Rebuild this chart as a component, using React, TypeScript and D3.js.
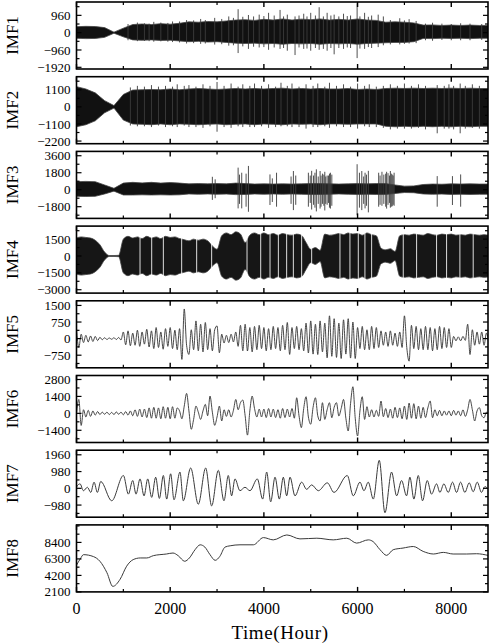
import React from "react";
import * as d3 from "d3";

// time axis (hours in one year)
const tEnd = 8784;
const xMajor = [0, 2000, 4000, 6000, 8000];
const xMinor = [1000, 3000, 5000, 7000];

// IMF1..IMF3: band envelopes sampled every 200 h (t = 0..8800)
const envStep = 200;
const imf1Hi = [
  330, 350, 340, 280, 30, 250, 450, 480, 450, 500,
  470, 520, 600, 580, 620, 600, 650, 700, 720, 680,
  740, 700, 760, 700, 750, 720, 760, 700, 740, 700,
  760, 700, 680, 580, 600, 580, 540, 420, 430, 400,
  420, 400, 420, 400, 400,
];
const imf1Lo = [
  -310, -330, -320, -260, -30, -230, -400, -420, -400, -430,
  -420, -460, -500, -480, -520, -500, -540, -580, -600, -580,
  -620, -600, -640, -600, -620, -600, -640, -600, -620, -600,
  -640, -600, -580, -560, -540, -540, -500, -320, -330, -310,
  -320, -310, -330, -310, -310,
];
// spikes: [hour, max, min]
const imf1Spikes = [
  [1100, 480, -420], [1300, 560, -470], [1450, 520, -460], [1550, 500, -470],
  [1650, 600, -500], [1800, 560, -480], [1950, 540, -500], [2050, 620, -520],
  [2200, 620, -540], [2350, 700, -600], [2500, 680, -580], [2650, 760, -620],
  [2750, 700, -600], [2950, 820, -660], [3100, 760, -640], [3250, 900, -720],
  [3350, 820, -700], [3450, 1300, -1130], [3550, 880, -760], [3670, 980, -900],
  [3780, 900, -780], [3900, 1000, -820], [4000, 920, -800], [4100, 1100, -950],
  [4220, 950, -820], [4345, 1260, -900], [4420, 900, -850], [4500, 1000, -1000],
  [4665, 900, -1240], [4750, 950, -820], [4850, 1050, -900], [4920, 900, -880],
  [5000, 1100, -1000], [5100, 950, -850], [5180, 1410, -950], [5270, 900, -900],
  [5350, 1100, -1000], [5430, 950, -850], [5500, 1000, -1200], [5600, 900, -850],
  [5700, 1050, -900], [5780, 920, -820], [5850, 950, -850], [5990, 1630, -1410],
  [6050, 900, -880], [6150, 1100, -900], [6230, 880, -800], [6300, 950, -850],
  [6440, 1000, -800], [6550, 900, -700], [6700, 700, -650], [6900, 800, -650],
  [7000, 680, -620], [7100, 750, -600], [7250, 650, -580], [7450, 500, -420],
  [7600, 550, -450], [7800, 500, -400], [8000, 480, -420], [8200, 520, -420],
  [8400, 500, -420], [8650, 480, -400],
];

const imf2Hi = [
  1300, 1150, 900, 400, 80, 800, 1080, 1100, 1120, 1100,
  1150, 1100, 1150, 1180, 1150, 1120, 1150, 1180, 1150, 1180,
  1150, 1180, 1200, 1150, 1180, 1150, 1180, 1150, 1150, 1180,
  1120, 1150, 1120, 1180, 1200, 1180, 1200, 1180, 1200, 1180,
  1200, 1180, 1200, 1180, 1180,
];
const imf2Lo = [
  -1280, -1150, -900, -380, -80, -850, -1100, -1120, -1150, -1100,
  -1150, -1100, -1120, -1150, -1120, -1100, -1150, -1120, -1100, -1150,
  -1100, -1120, -1150, -1100, -1120, -1100, -1150, -1100, -1100, -1120,
  -1100, -1100, -1100, -1250, -1280, -1250, -1280, -1250, -1280, -1250,
  -1280, -1250, -1280, -1250, -1250,
];
const imf2Spikes = [
  [1150, 1250, -1200], [1300, 1350, -1250], [1450, 1300, -1250], [1600, 1400, -1300],
  [1750, 1300, -1200], [1900, 1350, -1300], [2050, 1300, -1250], [2150, 1450, -1300],
  [2300, 1350, -1200], [2400, 1400, -1300], [2550, 1300, -1300], [2700, 1450, -1350],
  [2850, 1350, -1250], [3000, 1600, -1600], [3150, 1350, -1300], [3300, 1500, -1350],
  [3450, 1300, -1250], [3550, 1450, -1300], [3700, 1350, -1300], [3800, 1500, -1300],
  [3950, 1350, -1250], [4100, 1450, -1350], [4250, 1300, -1300], [4365, 1550, -1250],
  [4500, 1350, -1250], [4600, 1500, -1300], [4750, 1300, -1300], [4900, 1450, -1400],
  [5050, 1350, -1300], [5150, 1500, -1300], [5300, 1300, -1250], [5400, 1550, -1350],
  [5550, 1350, -1250], [5700, 1450, -1300], [5850, 1300, -1300], [6000, 1500, -1400],
  [6150, 1350, -1250], [6250, 1450, -1300], [6400, 1300, -1300], [6550, 1350, -1350],
  [6700, 1450, -1450], [6850, 1350, -1400], [7000, 1500, -1400], [7150, 1350, -1400],
  [7300, 1450, -1350], [7450, 1350, -1450], [7700, 1400, -1700], [7850, 1350, -1400],
  [7950, 1450, -1400], [8050, 1350, -1450], [8190, 1500, -1700], [8300, 1350, -1400],
  [8450, 1450, -1350], [8600, 1350, -1400],
];

const imf3Hi = [
  850, 880, 850, 500, 150, 700, 780, 720, 780, 700,
  760, 700, 620, 650, 620, 650, 620, 700, 650, 600,
  620, 600, 620, 600, 620, 650, 650, 620, 600, 620,
  650, 620, 650, 650, 500, 380, 400, 550, 600, 580,
  620, 600, 620, 600, 600,
];
const imf3Lo = [
  -700, -720, -700, -450, -150, -560, -560, -540, -560, -540,
  -560, -540, -450, -480, -450, -480, -460, -520, -500, -450,
  -480, -450, -480, -450, -480, -500, -500, -480, -450, -480,
  -500, -480, -500, -500, -400, -300, -320, -450, -480, -460,
  -500, -480, -500, -480, -480,
];
const imf3Spikes = [
  [2900, 1370, -1080], [2960, 1100, -900], [3450, 2340, -1980], [3480, 1600, -1500],
  [3527, 1800, -1980], [3620, 1700, -1800], [3670, 2520, -2340], [4130, 1620, -1620],
  [4180, 1200, -1300], [4270, 1800, -1800], [4580, 1400, -1500], [4630, 1980, -2160],
  [4680, 1500, -1600], [4950, 1800, -1800], [4990, 1500, -1400], [5020, 2000, -2100],
  [5060, 1500, -1600], [5090, 1800, -1900], [5120, 2160, -2300], [5160, 1400, -1500],
  [5200, 1980, -2000], [5220, 1500, -1800], [5250, 1700, -1500], [5280, 1600, -1700],
  [5300, 1900, -2200], [5320, 1400, -1500], [5350, 1500, -1600], [5380, 1500, -1400],
  [5400, 1700, -1900], [5420, 1800, -2000], [5450, 1600, -1700], [5990, 2700, -2700],
  [6040, 1800, -1900], [6090, 1980, -2160], [6130, 1400, -1500], [6160, 1800, -1980],
  [6190, 1600, -1700], [6230, 2000, -2400], [6450, 1800, -1800], [6480, 1500, -1600],
  [6520, 1900, -1700], [6560, 1600, -1500], [6600, 1700, -1800], [6620, 1900, -2000],
  [6650, 1750, -1600], [6680, 1500, -1400], [6700, 1980, -1900], [6720, 1700, -1800],
  [6740, 1600, -1750], [6760, 1500, -1600], [6780, 1800, -1700], [7700, 1440, -1800],
  [8025, 1440, -1620], [8200, 1620, -1800],
];

// IMF4: burst amplitude every 100 h (t = 0..8800) and the quiet gaps between bursts
const ampStep = 100;
const imf4Amp = [
  1600, 1700, 1650, 1600, 1400, 1000, 350, 40, 40, 60,
  1500, 1750, 1600, 1700, 1550, 1750, 1600, 1700, 1550, 1750,
  1650, 1700, 1550, 1450, 1350, 1500, 1400, 1500, 1350, 900,
  600, 1800, 2050, 1900, 2150, 1950, 1200, 1850, 2050, 1900,
  2050, 1900, 2000, 1850, 2000, 1900, 1850, 1950, 1850, 1200,
  600, 750, 500, 1950, 1850, 1900, 2000, 1900, 2050, 1950,
  2000, 1850, 2050, 1900, 1800, 700, 550, 650, 400, 1800,
  1900, 1850, 1950, 1900, 1850, 2000, 1900, 1850, 1950, 1900,
  1950, 1850, 1900, 1850, 1950, 1900, 1850, 1900, 1850,
];
const imf4Gaps = [
  1356, 1605, 1854, 2245, 2565, 2885, 3640, 3932, 4131, 4309, 4486, 4629,
  4806, 5020, 5624, 5837, 6015, 6157, 6300, 6975, 7260, 7686, 7900, 8184, 8468,
];

// IMF5, IMF6: signal read every 50 h (t = 0..8800)
const sigStep = 50;
const imf5 = [
  450, -400, 200, -180, 150, -150, 120, -130, 100, -90,
  60, -50, 40, -40, 30, -30, 40, -40, 50, -60,
  300, -280, 350, -320, 250, -300, 380, -350, 300, -250,
  420, -380, 350, -450, 500, -400, 300, -480, 450, -350,
  500, -450, 380, -500, 450, -940, 1340, -300, -715, 400,
  -500, 800, -550, 650, -600, 730, -500, 450, -550, 400,
  575, -640, 200, -200, 150, -180, 200, -150, 300, -350,
  600, -550, 650, -560, 500, -600, 550, -500, 600, -450,
  500, -550, 450, -500, 550, -450, 500, -550, 600, -500,
  730, -715, 500, -450, 550, -500, 450, -550, 700, -650,
  800, -700, 650, -720, 800, -600, 700, -870, 1030, -800,
  900, -850, 700, -900, 850, -700, 900, -880, 750, -900,
  500, -450, 550, -500, 400, -500, 550, -450, 500, -400,
  350, -300, 300, -350, 350, -300, 250, -350, 300, -400,
  1030, -400, -1020, 600, -450, 550, -500, 450, -500, 550,
  -500, 500, -550, 450, -500, 550, -450, 500, -400, 450,
  -400, 100, -100, 80, -100, 100, -80, 650, -720, 400,
  -300, 300, -250, 300, -300, 250, -200,
];
const imf6 = [
  0, 1150, -1000, 300, -300, 250, -250, 200, -150, 150,
  -100, 100, -80, 100, -100, 80, -100, 120, -80, 100,
  -120, 150, -150, 200, -200, 300, -250, 350, -300, 350,
  -350, 450, -400, 500, -400, 450, -450, 550, -400, 500,
  -450, 550, -400, 450, 200, -450, 600, 1650, 200, -1320,
  -500, 600, 100, -500, 200, 740, -200, 1430, 100, -990,
  -300, 600, -630, 300, -250, 300, -300, 250, 1150, 300,
  880, 1100, -200, -1800, 200, 1430, 400, -300, 350, -300,
  350, -350, 400, -300, 350, -350, 300, -400, 400, -350,
  350, -300, 400, -400, 1290, -200, -1180, 400, 1375, -300,
  -900, 500, 1290, -200, -630, 880, -500, 300, 880, -360,
  500, 880, -220, 400, 1150, -400, -1460, 800, 2200, -400,
  -1870, 200, 1375, -500, 550, -300, 300, -300, 250, -250,
  1020, -280, 400, -350, 350, -400, 500, -350, 450, -450,
  600, -500, 850, -400, 800, -450, 600, -400, 500, -350,
  450, 1020, -360, 300, -200, 250, -200, 200, -150, 200,
  -200, 250, -150, 200, -200, 300, -250, 300, 1150, 300,
  -630, 200, 470, -200, -360, 100, 0,
];

// IMF7: extrema [hour, value]
const imf7 = [
  [0, 60], [20, 160], [76, 260], [148, -140], [233, 60], [304, -240], [375, 360],
  [446, -240], [517, 400], [752, -730], [1001, 750], [1107, -340], [1200, 455],
  [1271, -340], [1356, 550], [1442, -440], [1520, 550], [1605, -530], [1690, 650],
  [1769, -590], [1854, 750], [1925, -630], [2010, 850], [2081, -670], [2209, 950],
  [2280, -730], [2437, 1190], [2600, -930], [2757, 1190], [2885, -1030], [3027, 1050],
  [3148, -730], [3240, 750], [3311, -440], [3383, 550], [3489, -140], [3596, 60],
  [3703, -140], [3860, 550], [3974, -630], [4060, 950], [4145, -790], [4238, 650],
  [4330, -630], [4415, 650], [4486, -440], [4558, 650], [4664, -440], [4806, 360],
  [4913, -60], [5020, 200], [5162, -140], [5354, 320], [5496, -240], [5780, 750],
  [5908, -440], [6051, 360], [6136, -140], [6228, 360], [6335, -630], [6463, 1640],
  [6584, -1430], [6726, 950], [6833, -440], [6939, 455], [7046, -440], [7117, 650],
  [7202, -630], [7295, 750], [7387, -730], [7487, 455], [7579, -340], [7686, 260],
  [7757, -240], [7842, 260], [7935, -240], [8027, 360], [8113, -240], [8198, 360],
  [8290, -240], [8383, 320], [8468, -200], [8554, 360], [8646, -240], [8717, 100],
  [8784, -40],
];

// IMF8: trend [hour, value]
const imf8 = [
  [0, 5500], [80, 6300], [150, 6840], [360, 6600], [500, 6000], [650, 4540],
  [775, 2800], [930, 3700], [1070, 5370], [1210, 6210], [1360, 6420], [1500, 6420],
  [1640, 6713], [1920, 6925], [2060, 7050], [2170, 6713], [2310, 6000], [2410, 6420],
  [2530, 7470], [2640, 8095], [2740, 7805], [2850, 6840], [2960, 6120], [3060, 6625],
  [3170, 7805], [3280, 7970], [3490, 8095], [3775, 8095], [3990, 9015], [4200, 8725],
  [4490, 9350], [4770, 8850], [5130, 8935], [5480, 8725], [5770, 8935], [5980, 8310],
  [6230, 8725], [6330, 8510], [6480, 7470], [6620, 6750], [6760, 7470], [6970, 7680],
  [7190, 7880], [7400, 7255], [7620, 6925], [7830, 7130], [8040, 6925], [8330, 6925],
  [8540, 6960], [8784, 6750],
];

const panels: any[] = [
  { name: "IMF1", domain: [-2014, 1700], ticks: [-1920, -960, 0, 960], minor: 480, hi: imf1Hi, lo: imf1Lo, spikes: imf1Spikes },
  { name: "IMF2", domain: [-2370, 1940], ticks: [-2200, -1100, 0, 1100], minor: 550, hi: imf2Hi, lo: imf2Lo, spikes: imf2Spikes },
  { name: "IMF3", domain: [-3040, 4060], ticks: [-1800, 0, 1800, 3600], minor: 900, hi: imf3Hi, lo: imf3Lo, spikes: imf3Spikes },
  { name: "IMF4", domain: [-3300, 2660], ticks: [-3000, -1500, 0, 1500], minor: 750, amp: imf4Amp, gaps: imf4Gaps },
  { name: "IMF5", domain: [-1320, 1710], ticks: [-750, 0, 750, 1500], minor: 375, sig: imf5 },
  { name: "IMF6", domain: [-2410, 3130], ticks: [-1400, 0, 1400, 2800], minor: 700, sig: imf6 },
  { name: "IMF7", domain: [-1690, 2230], ticks: [-980, 0, 980, 1960], minor: 490, pts: imf7 },
  { name: "IMF8", domain: [2100, 10630], ticks: [2100, 4200, 6300, 8400], minor: 1050, pts: imf8 },
];

const W = 491, H = 644;
const left = 76.5, right = 488;
const top0 = 2, pitch = 74.7, ph = 67;
const font = "'Liberation Serif', 'Times New Roman', serif";

const x = d3.scaleLinear().domain([0, tEnd]).range([left, right]);
const fmt = (v: number) => (v < 0 ? "\u2212" + Math.abs(v) : String(v));

function Panel({ p, i }: { p: any; i: number }) {
  const py = top0 + i * pitch;
  const y = d3.scaleLinear().domain(p.domain).range([py + ph, py]);
  const clipId = `clip-${i}`;
  const marks: React.ReactNode[] = [];

  if (p.hi) {
    const band = d3
      .area<number>()
      .x((_, k) => x(k * envStep))
      .y0((_, k) => y(p.lo[k]))
      .y1((d) => y(d));
    marks.push(<path key="band" d={band(p.hi) || ""} fill="#111" stroke="#444" strokeWidth={0.8} />);
    p.spikes.forEach((s: number[], k: number) => {
      marks.push(
        <line key={"s" + k} x1={x(s[0])} x2={x(s[0])} y1={y(s[1])} y2={y(s[2])} stroke="#3c3c3c" strokeWidth={0.9} />
      );
    });
  }
  if (p.amp) {
    const band = d3
      .area<number>()
      .x((_, k) => x(k * ampStep))
      .y0((d) => y(-d))
      .y1((d) => y(d))
      .curve(d3.curveMonotoneX);
    marks.push(<path key="amp" d={band(p.amp) || ""} fill="#161616" stroke="#444" strokeWidth={0.8} />);
    p.gaps.forEach((t: number) => {
      marks.push(
        <line key={"g" + t} x1={x(t)} x2={x(t)} y1={py} y2={py + ph} stroke="#fff" strokeOpacity={0.85} strokeWidth={1} />
      );
    });
  }
  if (p.sig) {
    const ln = d3
      .line<number>()
      .x((_, k) => x(k * sigStep))
      .y((d) => y(d))
      .curve(d3.curveMonotoneX);
    marks.push(<path key="sig" d={ln(p.sig) || ""} fill="none" stroke="#333" strokeWidth={0.9} />);
  }
  if (p.pts) {
    const ln = d3
      .line<number[]>()
      .x((d) => x(d[0]))
      .y((d) => y(d[1]))
      .curve(d3.curveMonotoneX);
    marks.push(<path key="pts" d={ln(p.pts) || ""} fill="none" stroke="#3a3a3a" strokeWidth={1} />);
  }

  const [d0, d1] = p.domain;
  const yMinor = d3
    .range(Math.ceil(d0 / p.minor) * p.minor, d1, p.minor)
    .filter((v) => !p.ticks.includes(v) && Math.abs(y(v) - py) > 1 && Math.abs(y(v) - py - ph) > 1);

  return (
    <g>
      <defs>
        <clipPath id={clipId}>
          <rect x={left} y={py} width={right - left} height={ph} />
        </clipPath>
      </defs>
      <g clipPath={`url(#${clipId})`}>{marks}</g>

      {/* y ticks, inward on both sides */}
      {p.ticks.map((v: number) => (
        <g key={"yt" + v}>
          <line x1={left} x2={left + 5} y1={y(v)} y2={y(v)} stroke="#000" strokeWidth={1.2} />
          <line x1={right} x2={right - 5} y1={y(v)} y2={y(v)} stroke="#000" strokeWidth={1.2} />
          <text x={left - 6} y={y(v)} dy="0.35em" textAnchor="end" fontSize={13} fontFamily={font}>
            {fmt(v)}
          </text>
        </g>
      ))}
      {yMinor.map((v: number) => (
        <g key={"ym" + v}>
          <line x1={left} x2={left + 3} y1={y(v)} y2={y(v)} stroke="#000" strokeWidth={1.2} />
          <line x1={right} x2={right - 3} y1={y(v)} y2={y(v)} stroke="#000" strokeWidth={1.2} />
        </g>
      ))}

      {/* x ticks, inward top and bottom */}
      {xMajor.map((t) => (
        <g key={"xt" + t}>
          <line x1={x(t)} x2={x(t)} y1={py} y2={py + 5} stroke="#000" strokeWidth={1.4} />
          <line x1={x(t)} x2={x(t)} y1={py + ph} y2={py + ph - 5} stroke="#000" strokeWidth={1.4} />
        </g>
      ))}
      {xMinor.map((t) => (
        <g key={"xm" + t}>
          <line x1={x(t)} x2={x(t)} y1={py} y2={py + 3} stroke="#000" strokeWidth={1.2} />
          <line x1={x(t)} x2={x(t)} y1={py + ph} y2={py + ph - 3} stroke="#000" strokeWidth={1.2} />
        </g>
      ))}

      <rect x={left} y={py} width={right - left} height={ph} fill="none" stroke="#000" strokeWidth={1.6} />

      <text
        transform={`translate(12, ${py + ph / 2}) rotate(-90)`}
        textAnchor="middle"
        dy="0.35em"
        fontSize={17}
        fontFamily={font}
      >
        {p.name}
      </text>
    </g>
  );
}

export default function App() {
  const bottom = top0 + 7 * pitch + ph;
  return (
    <svg width={W} height={H} style={{ position: "absolute", left: 0, top: 0, background: "#fff" }}>
      <rect width={W} height={H} fill="#fff" />
      {panels.map((p, i) => (
        <Panel key={p.name} p={p} i={i} />
      ))}
      {xMajor.map((t) => (
        <text key={t} x={x(t)} y={bottom + 22} textAnchor="middle" fontSize={16} fontFamily={font}>
          {t}
        </text>
      ))}
      <text x={280} y={bottom + 47} textAnchor="middle" fontSize={19} letterSpacing={0.6} fontFamily={font}>
        Time(Hour)
      </text>
    </svg>
  );
}
